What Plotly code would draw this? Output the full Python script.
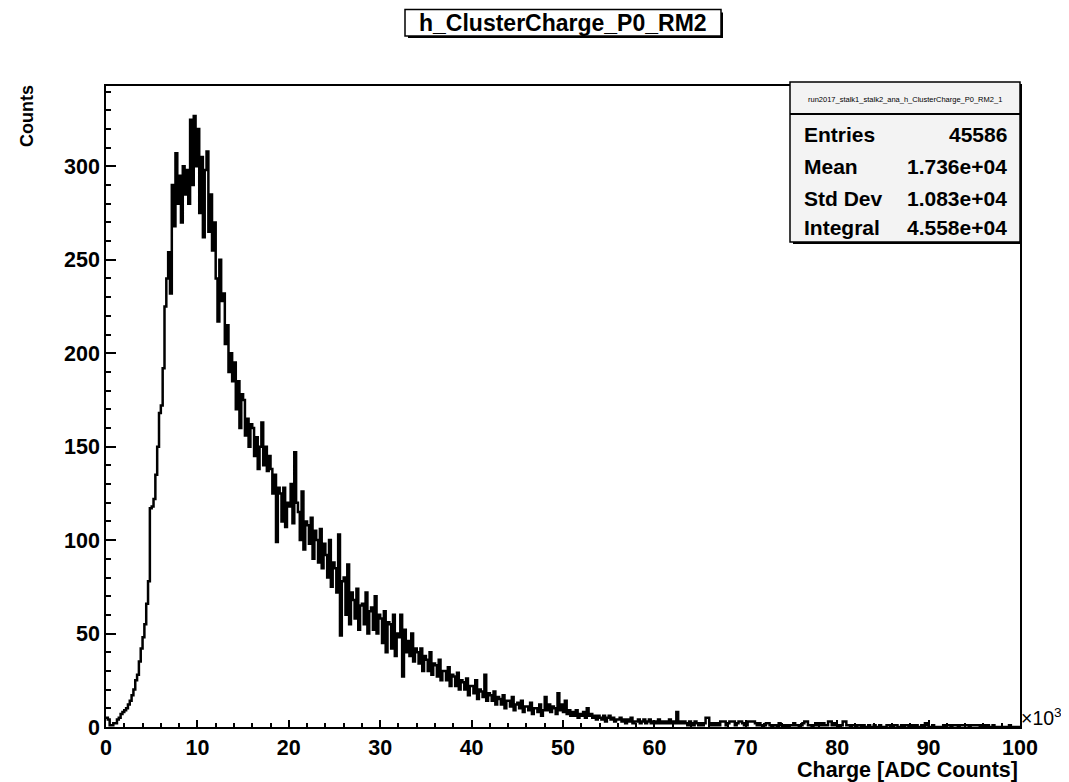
import plotly.graph_objects as go

# ---------------- data ----------------
title_text = "h_ClusterCharge_P0_RM2"
stats_name = "run2017_stalk1_stalk2_ana_h_ClusterCharge_P0_RM2_1"
stats_labels = ["Entries", "Mean", "Std Dev", "Integral"]
stats_values = ["45586", "1.736e+04", "1.083e+04", "4.558e+04"]
x_title = "Charge [ADC Counts]"
y_title = "Counts"

x_min_k = 0.0      # histogram low edge, in 10^3 ADC
x_max_k = 100.0    # histogram high edge
# bin contents, 500 bins of 0.2 (x10^3) ADC counts
counts = [
    5, 4, 1, 1, 2,   2, 4, 5, 7, 8,   9, 10, 12, 14, 17,   20, 25, 28, 35, 42,
    48, 55, 66, 78, 117,   118, 122, 135, 150, 168,   172, 192, 225, 240, 254,   232, 290, 268, 307, 280,
    295, 270, 300, 285, 298,   280, 325, 290, 327, 300,   320, 275, 305, 262, 298,   308, 265, 285, 255, 270,
    240, 217, 250, 228, 232,   205, 215, 190, 200, 185,   195, 170, 185, 160, 178,   175, 156, 165, 150, 162,
    160, 145, 155, 138, 150,   163, 140, 150, 137, 145,   138, 125, 135, 99, 128,   125, 110, 128, 107, 120,
    118, 130, 109, 147, 120,   115, 100, 126, 95, 110,   108, 98, 112, 90, 105,   100, 88, 106, 85, 98,
    92, 80, 100, 75, 88,   85, 72, 103, 49, 78,   80, 60, 87, 55, 72,   68, 58, 74, 52, 65,
    66, 55, 72, 50, 62,   64, 52, 70, 50, 60,   58, 45, 62, 40, 56,   55, 42, 60, 38, 50,
    48, 60, 27, 52, 40,   46, 38, 50, 35, 42,   40, 34, 42, 30, 38,   36, 30, 40, 28, 34,
    33, 27, 36, 25, 30,   30, 25, 32, 22, 28,   27, 22, 29, 20, 25,   24, 20, 26, 17, 22,
    22, 18, 25, 15, 20,   19, 16, 28, 14, 18,   17, 14, 19, 12, 16,   15, 12, 17, 10, 14,
    14, 11, 16, 9, 12,   13, 10, 14, 8, 11,   11, 9, 13, 7, 10,   10, 8, 12, 6, 9,
    16, 9, 12, 8, 11,   10, 7, 18, 9, 12,   8, 14, 7, 9, 6,   8, 6, 9, 5, 7,
    6, 8, 5, 10, 6,   7, 5, 6, 4, 6,   5, 4, 6, 3, 5,   6, 4, 5, 3, 4,
    4, 5, 3, 4, 2,   4, 3, 5, 2, 3,   3, 4, 2, 3, 4,   2, 3, 4, 2, 3,
    3, 2, 4, 2, 3,   2, 3, 2, 4, 2,   3, 2, 8, 2, 3,   2, 3, 2, 1, 3,
    2, 1, 3, 2, 1,   2, 1, 2, 5, 5,   2, 1, 2, 1, 2,   1, 3, 3, 3, 1,
    2, 3, 3, 3, 1,   2, 3, 3, 2, 1,   1, 3, 3, 3, 3,   2, 1, 2, 1, 0,
    1, 2, 2, 1, 0,   1, 1, 0, 2, 1,   1, 0, 1, 0, 1,   1, 2, 1, 1, 0,
    1, 2, 3, 3, 1,   1, 0, 1, 2, 1,   2, 1, 2, 1, 1,   3, 3, 1, 2, 1,
    1, 0, 1, 3, 3,   1, 1, 0, 1, 1,   0, 1, 1, 0, 1,   0, 0, 1, 0, 0,
    1, 0, 0, 1, 0,   0, 0, 1, 1, 0,   0, 1, 1, 0, 0,   1, 0, 1, 1, 0,
    0, 1, 0, 1, 0,   0, 1, 0, 2, 1,   0, 0, 1, 0, 0,   0, 0, 0, 1, 0,
    1, 1, 0, 1, 1,   1, 0, 1, 1, 1,   1, 1, 0, 1, 1,   1, 1, 1, 0, 1,
    1, 0, 1, 0, 0,   1, 0, 0, 0, 0,   0, 0, 0, 0, 1,   0, 0, 0, 0, 0,
]
y_max = 343

# ---------------- layout helpers ----------------
OFF = 8                    # page body margin offset
W, H = 1069 - OFF, 782 - OFF
L, R, T, B = 106, 1020, 86, 727   # plot frame in page pixels


def px(x):
    return (x - L) / (R - L)


def py(y):
    return (B - y) / (B - T)


FONT = "Liberation Sans"

nb = len(counts)
bw = (x_max_k - x_min_k) / nb
edges = [x_min_k + i * bw for i in range(nb + 1)]
ys = counts + [counts[-1]]

fig = go.Figure()
fig.add_trace(go.Scatter(
    x=edges, y=ys, mode="lines", line=dict(color="black", width=2.5, shape="hv"),
    hoverinfo="skip", showlegend=False,
))

axis_common = dict(
    showgrid=False, zeroline=False, showline=True, mirror=True,
    linecolor="black", linewidth=1.5, ticks="inside", tickcolor="black",
    tickfont=dict(family=FONT, size=21.5, color="black", weight="bold"),
)
fig.update_xaxes(range=[x_min_k, x_max_k], tick0=0, dtick=10, ticklen=7, tickwidth=1.5,
                 minor=dict(ticks="inside", dtick=2, ticklen=4, tickcolor="black", tickwidth=1.5),
                 **axis_common)
fig.update_yaxes(range=[0, y_max], tick0=0, dtick=50, ticklen=10, tickwidth=1.5,
                 minor=dict(ticks="inside", dtick=10, ticklen=5, tickcolor="black", tickwidth=1.5),
                 **axis_common)

shapes = []
annotations = []


def box(x0, x1, y0, y1, fill):
    # shadow (bottom/right) then box
    shapes.append(dict(type="rect", xref="paper", yref="paper",
                       x0=px(x0 + 3), x1=px(x1 + 2), y0=py(y1 + 2), y1=py(y0 + 3),
                       line=dict(width=0), fillcolor="black", layer="above"))
    shapes.append(dict(type="rect", xref="paper", yref="paper",
                       x0=px(x0), x1=px(x1), y0=py(y1), y1=py(y0),
                       line=dict(color="black", width=1.5), fillcolor=fill, layer="above"))


# title box
box(405, 721, 9.5, 36, "white")
annotations.append(dict(xref="paper", yref="paper", x=px(563), y=py(23),
                        text=title_text, showarrow=False, xanchor="center", yanchor="middle",
                        font=dict(family=FONT, size=23, color="black", weight="bold")))

# stats box
box(790, 1020, 82, 242, "#f3f3f3")
shapes.append(dict(type="line", xref="paper", yref="paper",
                   x0=px(790), x1=px(1020), y0=py(114), y1=py(114),
                   line=dict(color="black", width=2), layer="above"))
annotations.append(dict(xref="paper", yref="paper", x=px(905), y=py(100),
                        text=stats_name, showarrow=False, xanchor="center", yanchor="middle",
                        font=dict(family=FONT, size=7.5, color="black")))
row_y = [135, 166, 198, 228]
for lab, val, yy in zip(stats_labels, stats_values, row_y):
    annotations.append(dict(xref="paper", yref="paper", x=px(802), y=py(yy),
                            text=lab, showarrow=False, xanchor="left", yanchor="middle",
                            font=dict(family=FONT, size=21, color="black", weight="bold")))
    annotations.append(dict(xref="paper", yref="paper", x=px(1009), y=py(yy),
                            text=val, showarrow=False, xanchor="right", yanchor="middle",
                            font=dict(family=FONT, size=21, color="black", weight="bold")))

# axis titles
annotations.append(dict(xref="paper", yref="paper", x=px(1020), y=py(770),
                        text=x_title, showarrow=False, xanchor="right", yanchor="middle",
                        font=dict(family=FONT, size=21.5, color="black", weight="bold")))
annotations.append(dict(xref="paper", yref="paper", x=px(27), y=py(83),
                        text=y_title, showarrow=False, xanchor="center", yanchor="top",
                        textangle=-90,
                        font=dict(family=FONT, size=18, color="black", weight="bold")))
annotations.append(dict(xref="paper", yref="paper", x=px(1019), y=py(717),
                        text="\u00d710<sup>3</sup>", showarrow=False, xanchor="left", yanchor="middle",
                        font=dict(family=FONT, size=19.5, color="black")))

fig.update_layout(
    width=W, height=H,
    margin=dict(l=L - OFF, r=W - (R - OFF), t=T - OFF, b=H - (B - OFF), pad=0),
    paper_bgcolor="white", plot_bgcolor="white",
    shapes=shapes, annotations=annotations,
    showlegend=False,
)

fig.write_html("out.html")
